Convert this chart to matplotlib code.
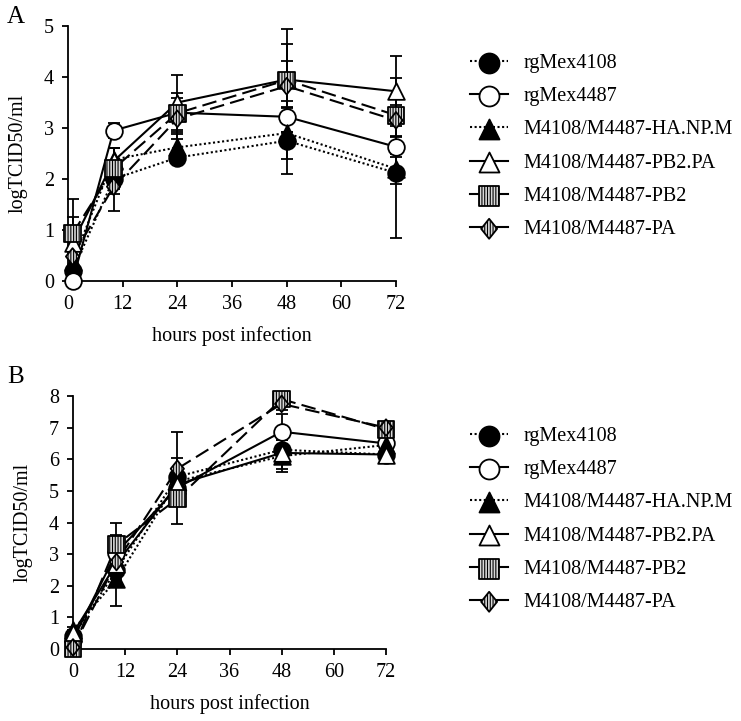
import matplotlib
matplotlib.use("Agg")
import matplotlib.pyplot as plt
from matplotlib.lines import Line2D
from matplotlib.path import Path

plt.rcParams["font.family"] = ["Liberation Serif", "DejaVu Serif"]
plt.rcParams["font.size"] = 14.5
plt.rcParams["hatch.linewidth"] = 0.8

hours_a = [1, 10, 24, 48, 72]
hours_b = [0, 10, 24, 48, 72]

labels = ["rgMex4108", "rgMex4487", "M4108/M4487-HA.NP.M",
          "M4108/M4487-PB2.PA", "M4108/M4487-PB2", "M4108/M4487-PA"]

# panel A (logTCID50/ml) means and sd
a_mex4108 = [0.2, 2.0, 2.42, 2.75, 2.12]
a_mex4487 = [0.0, 2.95, 3.3, 3.22, 2.63]
a_hanpm = [0.38, 2.38, 2.62, 2.9, 2.2]
a_pb2pa = [0.75, 2.35, 3.5, 3.95, 3.72]
a_pb2 = [0.93, 2.2, 3.29, 3.94, 3.25]
a_pa = [0.48, 1.85, 3.18, 3.82, 3.15]

a_mex4108_sd = [0.1, 0.3, 0.1, 0.66, 1.28]
a_mex4487_sd = [0.0, 0.15, 0.1, 0.3, 0.2]
a_hanpm_sd = [0.1, 0.22, 0.3, 0.5, 0.3]
a_pb2pa_sd = [0.5, 0.25, 0.54, 0.69, 0.69]
a_pb2_sd = [0.67, 0.4, 0.4, 1.01, 0.74]
a_pa_sd = [0.2, 0.48, 0.4, 0.5, 0.3]

# panel B
b_mex4108 = [0.4, 2.5, 5.45, 6.3, 6.15]
b_mex4487 = [0.3, 3.05, 5.1, 6.87, 6.5]
b_hanpm = [0.6, 2.2, 5.3, 6.1, 6.45]
b_pb2pa = [0.5, 2.7, 5.2, 6.2, 6.15]
b_pb2 = [0.0, 3.3, 4.75, 7.9, 6.95]
b_pa = [0.05, 2.75, 5.7, 7.75, 7.0]

b_mex4108_sd = [0.1, 0.3, 0.6, 0.3, 0.1]
b_mex4487_sd = [0.1, 0.55, 0.3, 0.55, 0.1]
b_hanpm_sd = [0.1, 0.84, 0.3, 0.5, 0.1]
b_pb2pa_sd = [0.1, 0.3, 0.3, 0.5, 0.1]
b_pb2_sd = [0.0, 0.7, 0.8, 0.2, 0.1]
b_pa_sd = [0.05, 0.3, 1.15, 0.2, 0.1]

diamond = Path([(0, 1), (0.8, 0), (0, -1), (-0.8, 0), (0, 1)],
               [Path.MOVETO, Path.LINETO, Path.LINETO, Path.LINETO, Path.CLOSEPOLY])

# line style, legend line style, marker, face, hatch
styles = [
    ((0, (1, 1.2)), (0, (1, 1.2)), "o", "black", None),
    ("-", "-", "o", "white", None),
    ((0, (1, 1.2)), (0, (1, 1.2)), "^", "black", None),
    ("-", "-", "^", "white", None),
    ((0, (7, 3)), "-", "s", "#d8d8d8", "||||||"),
    ((0, (7, 3)), "-", diamond, "#d8d8d8", "||||||"),
]

MS = 12


def draw_panel(ax, hours, means, sds, ymax):
    handles = []
    for k, (m, sd) in enumerate(zip(means, sds)):
        ls, leg_ls, mk, face, hatch = styles[k]
        ax.errorbar(hours, m, yerr=sd, fmt="none", ecolor="black",
                    elinewidth=1.3, capsize=4, capthick=1.3, zorder=2, clip_on=False)
        ax.plot(hours, m, color="black", lw=1.5, ls=ls, zorder=2, clip_on=False)
        sc = ax.scatter(hours, m, s=MS ** 2, marker=mk, facecolor=face,
                        edgecolor="black", linewidths=1.3, hatch=hatch,
                        zorder=3 + k * 0.1, clip_on=False)
        ln = Line2D([0], [0], color="black", lw=1.5, ls=leg_ls)
        handles.append((ln, sc))

    ax.set_xlim(0, 72)
    ax.set_ylim(0, ymax)
    ax.set_xticks(range(0, 73, 12))
    ax.set_yticks(range(0, ymax + 1))
    for s in ["top", "right"]:
        ax.spines[s].set_visible(False)
    for s in ["left", "bottom"]:
        ax.spines[s].set_linewidth(1.3)
    ax.tick_params(direction="out", length=4, width=1.3, pad=6)
    ax.set_xlabel("hours post infection", labelpad=9)
    ax.set_ylabel("logTCID50/ml", labelpad=12)
    return handles


fig = plt.figure(figsize=(7.41, 7.21), dpi=100)
ax_a = fig.add_axes([68 / 741, 1 - 281 / 721, 328 / 741, 255 / 721])
ax_b = fig.add_axes([73 / 741, 1 - 649 / 721, 313 / 741, 253 / 721])

h_a = draw_panel(ax_a, hours_a,
                 [a_mex4108, a_mex4487, a_hanpm, a_pb2pa, a_pb2, a_pa],
                 [a_mex4108_sd, a_mex4487_sd, a_hanpm_sd, a_pb2pa_sd, a_pb2_sd, a_pa_sd], 5)
h_b = draw_panel(ax_b, hours_b,
                 [b_mex4108, b_mex4487, b_hanpm, b_pb2pa, b_pb2, b_pa],
                 [b_mex4108_sd, b_mex4487_sd, b_hanpm_sd, b_pb2pa_sd, b_pb2_sd, b_pa_sd], 8)

for ax, h, top in [(ax_a, h_a, 54), (ax_b, h_b, 427)]:
    ax.legend(h, labels, loc="upper left", bbox_to_anchor=(470 / 741, 1 - top / 721),
              bbox_transform=fig.transFigure, frameon=False, borderpad=0,
              borderaxespad=0, handlelength=1.9, handletextpad=0.75,
              labelspacing=0.7, markerscale=1.2)

fig.text(7 / 741, 1 - 6 / 721, "A", fontsize=18, va="top", ha="left")
fig.text(7 / 741, 1 - 366 / 721, "B", fontsize=18, va="top", ha="left")

fig.savefig("out.png", dpi=100)
